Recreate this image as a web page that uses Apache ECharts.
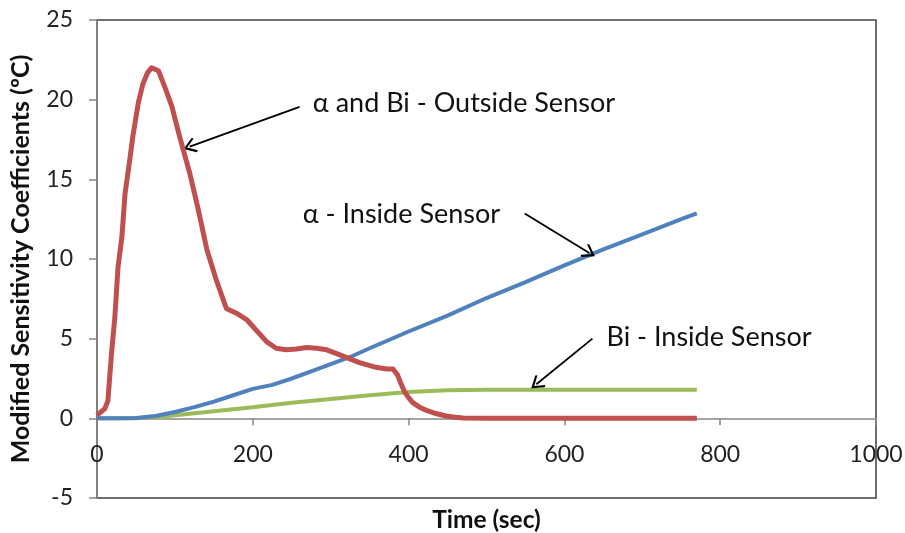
<!DOCTYPE html>
<html>
<head>
<meta charset="utf-8">
<script src="https://cdn.jsdelivr.net/npm/echarts@6/dist/echarts.min.js"></script>
<style>html,body{margin:0;padding:0;background:#fff;}#c{width:905px;height:533px;}</style>
</head>
<body>
<div id="c"></div>
<script>
// ---- data ----
var redT = [0,2,10,14,19,23,27,32,36,42,46,53,59,65,70,75,79,87,96,106,119,130,141,153,166,179,192,205,218,230,243,256,269,282,295,311,337,358,372,380,386,390,395,400,405,414,423,435,448,460,470,500,550,600,650,700,770];
var redV = [0.2,0.3,0.6,1.1,4.3,6.4,9.5,11.4,14.1,16.2,17.7,19.8,21.0,21.7,22.0,21.9,21.8,20.8,19.6,17.7,15.4,13.1,10.6,8.7,6.9,6.6,6.2,5.5,4.8,4.4,4.3,4.35,4.45,4.4,4.3,4.0,3.5,3.2,3.1,3.1,2.7,2.2,1.65,1.3,1.0,0.7,0.5,0.3,0.15,0.07,0.02,0,0,0,0,0,0];
var blueT = [0,25,50,75,100,125,150,175,200,225,250,275,300,325,350,400,450,500,550,600,650,700,750,770];
var blueV = [0,0,0.02,0.15,0.4,0.7,1.05,1.45,1.85,2.1,2.5,2.95,3.4,3.85,4.4,5.45,6.45,7.55,8.55,9.6,10.6,11.55,12.5,12.86];
var greenT = [0,25,50,75,100,150,200,250,300,350,400,450,500,600,700,770];
var greenV = [0,0,0,0.07,0.2,0.45,0.7,0.98,1.22,1.45,1.65,1.77,1.8,1.8,1.8,1.8];
var xTicks = [0,200,400,600,800,1000];
var yTicks = [-5,0,5,10,15,20,25];
// annotation texts and arrows (data coordinates)
var noteText = ['\u03b1 and Bi - Outside Sensor','\u03b1 - Inside Sensor','Bi - Inside Sensor'];
var noteAt = [[277,19.8],[264,12.8],[654,5.1]];
var arrowFrom = [[260,19.55],[549,12.86],[636,5.0]];
var arrowTo = [[119,17.05],[632,10.38],[564,2.14]];

function pairs(t,v){return t.map(function(x,i){return [x,v[i]];});}

var chevron = 'path://M0,0 L10,10 L8.3,11.7 L0,3.4 L-8.3,11.7 L-10,10 Z';
var FONT = 'Lato';

var option = {
  animation:false,
  backgroundColor:'#fff',
  grid:{left:97,right:29,top:20,bottom:35,show:true,borderColor:'#404040',borderWidth:1.5,backgroundColor:'transparent',
    containLabel:false,outerBoundsMode:'none'},
  xAxis:{type:'value',min:xTicks[0],max:xTicks[xTicks.length-1],interval:200,
    axisLine:{onZero:true,lineStyle:{color:'#868686',width:1.5}},
    axisTick:{show:true,inside:false,length:7,lineStyle:{color:'#868686',width:1.5}},
    axisLabel:{fontFamily:FONT,fontSize:23,color:'#222',margin:-55,formatter:function(v){return String(v);}},
    splitLine:{show:false},
    name:'Time (sec)',nameLocation:'middle',nameGap:10,
    nameTextStyle:{fontFamily:FONT,fontSize:24.5,fontWeight:'bold',color:'#111'}},
  yAxis:{type:'value',min:yTicks[0],max:yTicks[yTicks.length-1],interval:5,
    axisLine:{show:true,onZero:false,lineStyle:{color:'#868686',width:1.5}},
    axisTick:{show:true,length:8,lineStyle:{color:'#868686',width:1.5}},
    axisLabel:{fontFamily:FONT,fontSize:23,color:'#222',margin:24},
    splitLine:{show:false},
    name:'Modified Sensitivity Coefficients (\u00baC)',nameLocation:'middle',nameGap:64,nameRotate:90,
    nameTextStyle:{fontFamily:FONT,fontSize:25,fontWeight:'bold',color:'#111'}},
  series:[
    {type:'line',name:'Bi - Inside',data:pairs(greenT,greenV),showSymbol:false,lineStyle:{color:'#9BBB59',width:4},itemStyle:{color:'#9BBB59'},z:3},
    {type:'line',name:'alpha - Inside',data:pairs(blueT,blueV),showSymbol:false,lineStyle:{color:'#4F81BD',width:4},itemStyle:{color:'#4F81BD'},z:4},
    {type:'line',name:'Outside',data:pairs(redT,redV),showSymbol:false,lineStyle:{color:'#C0504D',width:5,join:'round'},itemStyle:{color:'#C0504D'},z:5,
      markLine:{silent:true,symbol:['none',chevron],symbolSize:[15,13],
        lineStyle:{color:'#000',width:1.8,type:'solid'},label:{show:false},
        data:arrowFrom.map(function(f,i){return [{coord:f},{coord:arrowTo[i]}];})},
      markPoint:{silent:true,symbol:'circle',symbolSize:0,
        label:{show:true,position:'right',distance:0,fontFamily:FONT,fontSize:27,color:'#111',
          formatter:function(p){return p.name;}},
        data:noteAt.map(function(c,i){return {name:noteText[i],coord:c};})}
    }
  ]
};
var chart = echarts.init(document.getElementById('c'),null,{renderer:'canvas'});
chart.setOption(option);
</script>
</body>
</html>
